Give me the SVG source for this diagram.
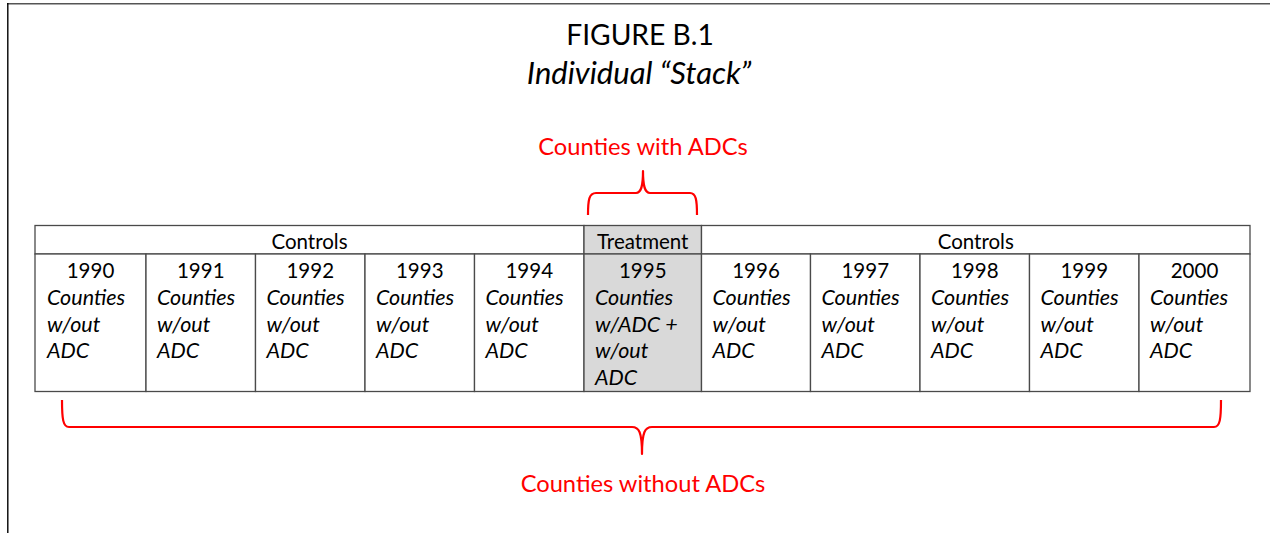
<svg xmlns="http://www.w3.org/2000/svg" width="1270" height="533" viewBox="0 0 1270 533">
<style>
.t{font-family:Lato,"Liberation Sans",sans-serif;fill:#000}
.title{font-size:28.2px;text-anchor:middle}
.subtitle{font-size:31px;font-style:italic;text-anchor:middle}
.hdr{font-size:20.5px;text-anchor:middle}
.yr{font-size:20.5px;text-anchor:middle}
.it{font-size:21.5px;font-style:italic}
.red{font-family:Lato,"Liberation Sans",sans-serif;font-size:23.7px;fill:#ff0000;text-anchor:middle}
.cell{fill:#fff;stroke:#4a4a4a;stroke-width:1.3}
.gray{fill:#d9d9d9;stroke:#4a4a4a;stroke-width:1.3}
.brace{fill:none;stroke:#ff0000;stroke-width:2.2;stroke-linejoin:round}
</style>
<rect width="1270" height="533" fill="#fff"/>
<g id="frame">
<line x1="7" y1="3.8" x2="1270" y2="3.8" stroke="#555" stroke-width="1.6"/>
<line x1="7.8" y1="3" x2="7.8" y2="533" stroke="#000" stroke-width="1.4"/>
</g>
<g id="title">
<text class="t title" x="640" y="45">FIGURE B.1</text>
<text class="t subtitle" x="639" y="84">Individual “Stack”</text>
</g>
<g id="header">
<rect class="cell" x="35" y="225.5" width="549" height="28.5"/>
<text class="t hdr" x="309.5" y="248.5">Controls</text>
<rect class="gray" x="584" y="225.5" width="117.5" height="28.5"/>
<text class="t hdr" x="642.75" y="248.5">Treatment</text>
<rect class="cell" x="701.5" y="225.5" width="548.5" height="28.5"/>
<text class="t hdr" x="975.75" y="248.5">Controls</text>
</g>
<g id="c1990"><rect class="cell" x="35" y="254" width="111" height="137.5"/><text class="t yr" x="90.5" y="277.5">1990</text><text class="t it" x="47"><tspan x="47" y="304.5">Counties</tspan><tspan x="47" y="331.5">w/out</tspan><tspan x="47" y="358">ADC</tspan></text></g>
<g id="c1991"><rect class="cell" x="146" y="254" width="109.5" height="137.5"/><text class="t yr" x="200.75" y="277.5">1991</text><text class="t it"><tspan x="157" y="304.5">Counties</tspan><tspan x="157" y="331.5">w/out</tspan><tspan x="157" y="358">ADC</tspan></text></g>
<g id="c1992"><rect class="cell" x="255.5" y="254" width="109.5" height="137.5"/><text class="t yr" x="310.25" y="277.5">1992</text><text class="t it"><tspan x="266.5" y="304.5">Counties</tspan><tspan x="266.5" y="331.5">w/out</tspan><tspan x="266.5" y="358">ADC</tspan></text></g>
<g id="c1993"><rect class="cell" x="365" y="254" width="109.5" height="137.5"/><text class="t yr" x="419.75" y="277.5">1993</text><text class="t it"><tspan x="376" y="304.5">Counties</tspan><tspan x="376" y="331.5">w/out</tspan><tspan x="376" y="358">ADC</tspan></text></g>
<g id="c1994"><rect class="cell" x="474.5" y="254" width="109.5" height="137.5"/><text class="t yr" x="529.25" y="277.5">1994</text><text class="t it"><tspan x="485.5" y="304.5">Counties</tspan><tspan x="485.5" y="331.5">w/out</tspan><tspan x="485.5" y="358">ADC</tspan></text></g>
<g id="c1995"><rect class="gray" x="584" y="254" width="117.5" height="137.5"/><text class="t yr" x="642.75" y="277.5">1995</text><text class="t it"><tspan x="595" y="304.5">Counties</tspan><tspan x="595" y="331.5">w/ADC +</tspan><tspan x="595" y="358">w/out</tspan><tspan x="595" y="385">ADC</tspan></text></g>
<g id="c1996"><rect class="cell" x="701.5" y="254" width="109" height="137.5"/><text class="t yr" x="756" y="277.5">1996</text><text class="t it"><tspan x="712.5" y="304.5">Counties</tspan><tspan x="712.5" y="331.5">w/out</tspan><tspan x="712.5" y="358">ADC</tspan></text></g>
<g id="c1997"><rect class="cell" x="810.5" y="254" width="109.5" height="137.5"/><text class="t yr" x="865.25" y="277.5">1997</text><text class="t it"><tspan x="821.5" y="304.5">Counties</tspan><tspan x="821.5" y="331.5">w/out</tspan><tspan x="821.5" y="358">ADC</tspan></text></g>
<g id="c1998"><rect class="cell" x="920" y="254" width="109.5" height="137.5"/><text class="t yr" x="974.75" y="277.5">1998</text><text class="t it"><tspan x="931" y="304.5">Counties</tspan><tspan x="931" y="331.5">w/out</tspan><tspan x="931" y="358">ADC</tspan></text></g>
<g id="c1999"><rect class="cell" x="1029.5" y="254" width="109.5" height="137.5"/><text class="t yr" x="1084.25" y="277.5">1999</text><text class="t it"><tspan x="1040.5" y="304.5">Counties</tspan><tspan x="1040.5" y="331.5">w/out</tspan><tspan x="1040.5" y="358">ADC</tspan></text></g>
<g id="c2000"><rect class="cell" x="1139" y="254" width="111" height="137.5"/><text class="t yr" x="1194.5" y="277.5">2000</text><text class="t it"><tspan x="1150" y="304.5">Counties</tspan><tspan x="1150" y="331.5">w/out</tspan><tspan x="1150" y="358">ADC</tspan></text></g>
<g id="connectors">
<path class="brace" d="M588,215 C588,200 589,193 596,193 L636,193 C641,193 643,187 643,171 C643,187 645,193 650,193 L690,193 C696,193 697,200 697,215"/>
<path class="brace" d="M62,400 C62,419 63,427 69,427 L632,427 C639,427 642,432 642,454 C642,432 645,427 652,427 L1214,427 C1220,427 1221,419 1221,400"/>
</g>
<g id="labels">
<text class="red" x="643" y="155">Counties with ADCs</text>
<text class="red" x="643" y="492">Counties without ADCs</text>
</g>
</svg>
